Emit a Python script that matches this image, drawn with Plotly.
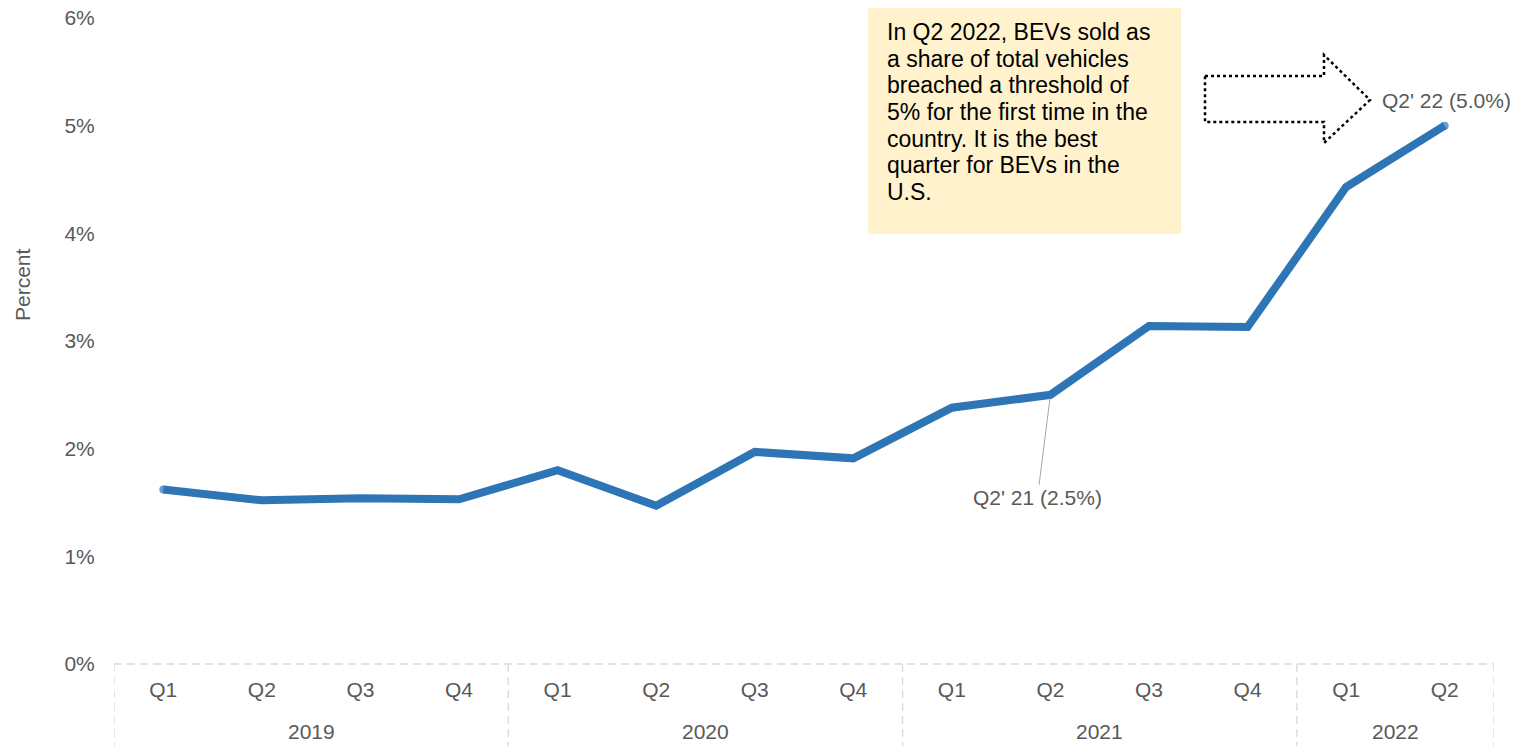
import plotly.graph_objects as go

# Quarterly BEV share of total U.S. vehicle sales (percent)
years = ["2019", "2020", "2021", "2022"]
quarters_per_year = [4, 4, 4, 2]
quarters = ["Q1", "Q2", "Q3", "Q4",
            "Q1", "Q2", "Q3", "Q4",
            "Q1", "Q2", "Q3", "Q4",
            "Q1", "Q2"]
bev_share = [1.62, 1.52, 1.54, 1.53,
             1.80, 1.47, 1.97, 1.91,
             2.38, 2.5, 3.14, 3.13,
             4.43, 5.0]
y_ticks = [0, 1, 2, 3, 4, 5, 6]

note_lines = [
    "In Q2 2022, BEVs sold as",
    "a share of total vehicles",
    "breached a threshold of",
    "5% for the first time in the",
    "country. It is the best",
    "quarter for BEVs in the",
    "U.S.",
]

W, H = 1513, 746
ML, MR, MT, MB = 114, 19, 18, 82
PW, PH = W - ML - MR, H - MT - MB

FONT = "Liberation Sans, Arial, sans-serif"
GREY = "#595959"
BLUE = "#2E75B6"
SEP = "#D9D9D9"


def px(X):
    return (X - ML) / PW


def py(Y):
    return (H - MB - Y) / PH


x_idx = list(range(len(quarters)))
# round caps at both ends of the line
cap_sizes = [8] + [0] * (len(quarters) - 2) + [8]

fig = go.Figure()
fig.add_trace(go.Scatter(
    x=x_idx, y=bev_share, mode="lines+markers",
    line=dict(color=BLUE, width=8),
    marker=dict(color=BLUE, size=cap_sizes, line=dict(width=0)),
    hoverinfo="skip", showlegend=False,
))

shapes = []
annotations = []

# dashed frame under the category axis
shapes.append(dict(type="line", xref="paper", yref="paper",
                   x0=0, x1=1, y0=0, y1=0,
                   line=dict(color=SEP, width=1.3, dash="8px,5px")))
bounds = [-0.5]
for n in quarters_per_year:
    bounds.append(bounds[-1] + n)
for b in bounds:
    shapes.append(dict(type="line", xref="x", yref="paper",
                       x0=b, x1=b, y0=0, y1=py(H),
                       line=dict(color=SEP, width=1.3, dash="8px,5px")))

# year labels centred under their quarters
for yr, lo, hi in zip(years, bounds[:-1], bounds[1:]):
    annotations.append(dict(text=yr, xref="x", yref="paper",
                            x=(lo + hi) / 2, y=py(731),
                            showarrow=False, xanchor="center", yanchor="middle",
                            font=dict(family=FONT, size=21, color=GREY)))

# axis title
annotations.append(dict(text="Percent", xref="paper", yref="paper",
                        x=px(22), y=py(285), textangle=-90,
                        showarrow=False, xanchor="center", yanchor="middle",
                        font=dict(family=FONT, size=21, color=GREY)))

# callout box
shapes.append(dict(type="rect", xref="paper", yref="paper",
                   x0=px(868), x1=px(1181), y0=py(8), y1=py(234),
                   fillcolor="#FFF2CC", line=dict(width=0), layer="below"))
for i, line in enumerate(note_lines):
    annotations.append(dict(text=line, xref="paper", yref="paper",
                            x=px(885), y=py(32 + i * 26.7),
                            showarrow=False, xanchor="left", yanchor="middle",
                            font=dict(family=FONT, size=23, color="#000000")))

# dotted block arrow pointing at the latest quarter
arrow_pts = [(1205, 76), (1324, 76), (1324, 55), (1370, 100),
             (1324, 143), (1324, 122), (1205, 122)]
path = "M " + " L ".join(f"{px(a):.5f},{py(b):.5f}" for a, b in arrow_pts) + " Z"
shapes.append(dict(type="path", xref="paper", yref="paper", path=path,
                   line=dict(color="#000000", width=2.5, dash="3px,3px"),
                   fillcolor="rgba(0,0,0,0)"))

# point labels
i21 = 9
annotations.append(dict(text=f"{quarters[i21]}' 21 ({bev_share[i21]:.1f}%)",
                        x=i21, y=bev_share[i21], xref="x", yref="y",
                        showarrow=True, arrowhead=0, arrowwidth=1,
                        arrowcolor="#A6A6A6", ax=-13, ay=103, standoff=4,
                        font=dict(family=FONT, size=21, color=GREY)))
i22 = 13
annotations.append(dict(text=f"{quarters[i22]}' 22 ({bev_share[i22]:.1f}%)",
                        x=12.34, y=5.23, xref="x", yref="y",
                        showarrow=False, xanchor="left", yanchor="middle",
                        font=dict(family=FONT, size=21, color=GREY)))

fig.update_layout(
    width=W, height=H,
    margin=dict(l=ML, r=MR, t=MT, b=MB, pad=0, autoexpand=False),
    paper_bgcolor="white", plot_bgcolor="white",
    shapes=shapes, annotations=annotations,
    xaxis=dict(range=[-0.5, len(quarters) - 0.5], tickmode="array",
               tickvals=x_idx, ticktext=quarters, automargin=False,
               showgrid=False, zeroline=False, showline=False,
               ticks="outside", ticklen=7, tickcolor="rgba(0,0,0,0)",
               tickfont=dict(family=FONT, size=21, color=GREY), fixedrange=True),
    yaxis=dict(range=[0, 6], tickmode="array", tickvals=y_ticks,
               ticktext=[f"{v}%" for v in y_ticks], automargin=False,
               showgrid=False, zeroline=False, showline=False,
               ticks="outside", ticklen=14, tickcolor="rgba(0,0,0,0)",
               tickfont=dict(family=FONT, size=21, color=GREY), fixedrange=True),
)

fig.write_html("out.html", config={"displayModeBar": False})
